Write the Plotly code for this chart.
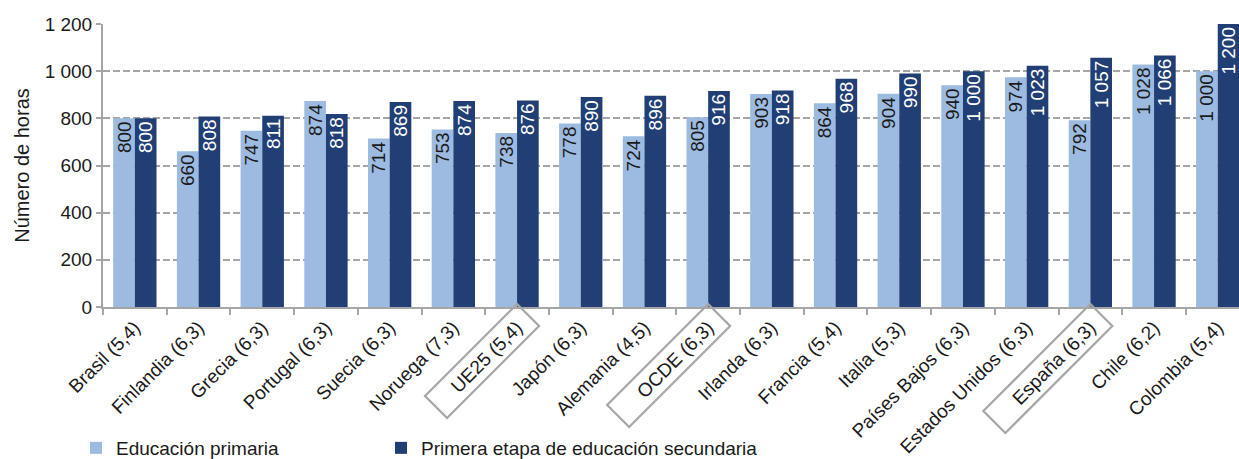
import plotly.graph_objects as go

# Horas de instrucción obligatorias por país
paises = [
    "Brasil (5,4)", "Finlandia (6,3)", "Grecia (6,3)", "Portugal (6,3)",
    "Suecia (6,3)", "Noruega (7,3)", "UE25 (5,4)", "Japón (6,3)",
    "Alemania (4,5)", "OCDE (6,3)", "Irlanda (6,3)", "Francia (5,4)",
    "Italia (5,3)", "Países Bajos (6,3)", "Estados Unidos (6,3)",
    "España (6,3)", "Chile (6,2)", "Colombia (5,4)",
]
primaria = [800, 660, 747, 874, 714, 753, 738, 778, 724, 805,
            903, 864, 904, 940, 974, 792, 1028, 1000]
secundaria = [800, 808, 811, 818, 869, 874, 876, 890, 896, 916,
              918, 968, 990, 1000, 1023, 1057, 1066, 1200]
destacados = ["UE25 (5,4)", "OCDE (6,3)", "España (6,3)"]

y_ticks = [0, 200, 400, 600, 800, 1000, 1200]

# Layout geometry (pixels)
W, H = 1239, 459
M_L, M_R, M_T, M_B = 103, 0, 24, 152
PLOT_W = W - M_L - M_R
PLOT_H = H - M_T - M_B
CAT_PX = 63.7
X_LO = -0.5
X_HI = X_LO + PLOT_W / CAT_PX

FONT = "Arial, 'Liberation Sans', sans-serif"
FS = 19
TXT = "#1a1a1a"
AXIS = "#a6a6a6"
CLARO = "#9DBBE1"
OSCURO = "#223F75"


def fmt(v):
    return f"{v:,}".replace(",", " ")


fig = go.Figure()
fig.add_trace(go.Bar(
    x=paises, y=primaria, name="Educación primaria", legend="legend",
    marker=dict(color=CLARO, line=dict(width=0)),
    text=[fmt(v) for v in primaria], textposition="inside",
    insidetextanchor="end", textangle=-90,
    textfont=dict(family=FONT, size=FS, color=TXT),
))
fig.add_trace(go.Bar(
    x=paises, y=secundaria, name="Primera etapa de educación secundaria",
    legend="legend2",
    marker=dict(color=OSCURO, line=dict(width=0)),
    text=[fmt(v) for v in secundaria], textposition="inside",
    insidetextanchor="end", textangle=-90,
    textfont=dict(family=FONT, size=FS, color="white"),
))

# Rotated frames around highlighted category labels (pixel offsets)
SHORT = 22
LONG = {"UE25 (5,4)": 92, "OCDE (6,3)": 101, "España (6,3)": 107}
for name in destacados:
    c = paises.index(name)
    L = LONG[name]
    pts_px = [(0, 3), (SHORT, 3 - SHORT), (SHORT - L, 3 - SHORT - L), (-L, 3 - L)]
    pts = [(c + dx / CAT_PX, dy / PLOT_H) for dx, dy in pts_px]
    path = "M " + " L ".join(f"{x:.4f},{y:.4f}" for x, y in pts) + " Z"
    fig.add_shape(type="path", xref="x", yref="paper", path=path,
                  line=dict(color=AXIS, width=2.2), fillcolor="rgba(0,0,0,0)",
                  layer="above")

legend_style = dict(
    orientation="h", xref="container", yref="container",
    xanchor="left", y=(H - 448) / H, yanchor="middle",
    font=dict(family=FONT, size=FS, color=TXT),
    itemwidth=30, bgcolor="rgba(0,0,0,0)",
)

fig.update_layout(
    width=W, height=H,
    margin=dict(l=M_L, r=M_R, t=M_T, b=M_B, autoexpand=False),
    paper_bgcolor="white", plot_bgcolor="white",
    font=dict(family=FONT, size=FS, color=TXT),
    separators=", ",
    barmode="group", bargap=0.32, bargroupgap=0,
    uniformtext=dict(minsize=FS, mode="show"),
    showlegend=True,
    legend=dict(x=76 / W, **legend_style),
    legend2=dict(x=381 / W, **legend_style),
    xaxis=dict(
        type="category", range=[X_LO, X_HI],
        showline=True, linecolor=AXIS, linewidth=2,
        ticks="outside", tickson="boundaries", ticklen=6,
        tickcolor=AXIS, tickwidth=2,
        tickangle=-45, tickfont=dict(family=FONT, size=FS, color=TXT),
        showgrid=False,
    ),
    yaxis=dict(
        range=[0, 1200], tickvals=y_ticks, tickformat=",d",
        showline=True, linecolor=AXIS, linewidth=2,
        ticks="outside", ticklen=5, tickcolor=AXIS, tickwidth=2,
        showgrid=True, gridcolor=AXIS, gridwidth=1.5, griddash="7px,3px",
        zeroline=False,
        tickfont=dict(family=FONT, size=FS, color=TXT),
        title=dict(text="Número de horas", standoff=10,
                   font=dict(family=FONT, size=20, color=TXT)),
    ),
)

fig.write_html("out.html")
